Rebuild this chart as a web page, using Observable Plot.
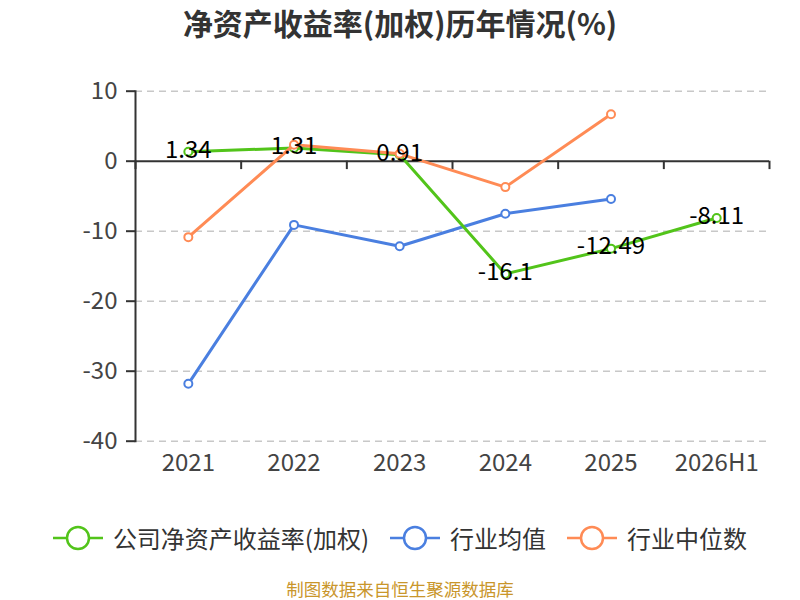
<!DOCTYPE html>
<html>
<head>
<meta charset="utf-8">
<script src="https://cdn.jsdelivr.net/npm/d3@7"></script>
<script src="https://cdn.jsdelivr.net/npm/@observablehq/plot@0.6"></script>
<style>
  html, body { margin: 0; padding: 0; background: #fff; }
  #wrap { position: relative; width: 800px; height: 600px; overflow: hidden; font-family: "Noto Sans CJK SC", "Noto Sans", sans-serif; }
  #title { position: absolute; top: 2px; left: 0; width: 800px; text-align: center; font-size: 30px; font-weight: bold; color: #333; line-height: 40px; }
  #chart { position: absolute; top: 60px; left: 0; }
  #ylab { position: absolute; left: 62px; top: 115px; color: #e00; font-size: 16px; transform: rotate(-90deg); transform-origin: center; }
  #legend { position: absolute; top: 520px; left: 0; width: 800px; display: flex; justify-content: center; align-items: center; gap: 21px; font-size: 24px; color: #333; }
  .item { display: flex; align-items: center; gap: 10px; }
  #foot { position: absolute; top: 576px; left: 0; width: 800px; text-align: center; font-size: 17.5px; color: #c9962b; }
</style>
</head>
<body>
<div id="wrap">
  <div id="title">净资产收益率(加权)历年情况(%)</div>
  <div id="ylab">(%)</div>
  <div id="chart"></div>
  <div id="legend"></div>
  <div id="foot">制图数据来自恒生聚源数据库</div>
</div>
<script>
const categories = ["2021", "2022", "2023", "2024", "2025", "2026H1"];
const companyValues = [1.34, 1.9, 0.91, -16.1, -12.49, -8.11];
const companyLabels = ["1.34", "1.31", "0.91", "-16.1", "-12.49", "-8.11"];
const industryMean = [-31.8, -9.1, -12.15, -7.5, -5.4];
const industryMedian = [-10.85, 2.35, 1.05, -3.7, 6.7];
const yTicks = [10, 0, -10, -20, -30, -40];
const seriesNames = ["公司净资产收益率(加权)", "行业均值", "行业中位数"];
const seriesColors = ["#52c41a", "#4a7fe0", "#ff8b55"];

const toRows = (vals) => vals.map((v, i) => ({ i, v }));
const company = companyValues.map((v, i) => ({ i, v, label: companyLabels[i] }));
const mean = toRows(industryMean);
const median = toRows(industryMedian);
const boundaries = d3.range(categories.length + 1).map(i => i - 0.5);

const plot = Plot.plot({
  width: 800,
  height: 420,
  marginLeft: 135,
  marginRight: 31,
  marginTop: 30.7,
  marginBottom: 39.3,
  style: { fontFamily: "'Noto Sans CJK SC', 'Noto Sans', sans-serif", fontSize: "24px", background: "white" },
  x: { type: "linear", domain: [-0.5, categories.length - 0.5] },
  y: { domain: [-40, 10] },
  marks: [
    Plot.ruleY(yTicks.filter(t => t !== 0), { stroke: "#c8c8c8", strokeWidth: 1.5, strokeDasharray: "7,5" }),
    Plot.ruleY([0], { stroke: "#333", strokeWidth: 2 }),
    Plot.ruleX(boundaries, { y1: 0, y2: -1.2, stroke: "#333", strokeWidth: 2 }),
    Plot.frame({ anchor: "left", stroke: "#333", strokeWidth: 2 }),
    Plot.axisY({ ticks: yTicks, tickSize: 9, tickPadding: 9, stroke: "#333", fill: "#444", strokeWidth: 2, fontSize: 24, label: null, tickFormat: d => String(d) }),
    Plot.axisX({ ticks: d3.range(categories.length), tickSize: 0, tickPadding: 13, fill: "#444", fontSize: 24, label: null, tickFormat: i => categories[i] }),
    Plot.line(mean, { x: "i", y: "v", stroke: seriesColors[1], strokeWidth: 3 }),
    Plot.dot(mean, { x: "i", y: "v", r: 4, fill: "white", stroke: seriesColors[1], strokeWidth: 2 }),
    Plot.line(company, { x: "i", y: "v", stroke: seriesColors[0], strokeWidth: 3 }),
    Plot.dot(company, { x: "i", y: "v", r: 4, fill: "white", stroke: seriesColors[0], strokeWidth: 2 }),
    Plot.line(median, { x: "i", y: "v", stroke: seriesColors[2], strokeWidth: 3 }),
    Plot.dot(median, { x: "i", y: "v", r: 4, fill: "white", stroke: seriesColors[2], strokeWidth: 2 }),
    Plot.text(company, { x: "i", y: "v", text: "label", fill: "#000", fontSize: 24, dy: -2 })
  ]
});
document.getElementById("chart").appendChild(plot);

const legend = document.getElementById("legend");
seriesNames.forEach((name, k) => {
  const item = document.createElement("div");
  item.className = "item";
  item.innerHTML = `<svg width="50" height="26"><line x1="0" y1="13" x2="50" y2="13" stroke="${seriesColors[k]}" stroke-width="2.5"/><circle cx="25" cy="13" r="11" fill="white" stroke="${seriesColors[k]}" stroke-width="2.5"/></svg><span>${name}</span>`;
  legend.appendChild(item);
});
</script>
</body>
</html>
